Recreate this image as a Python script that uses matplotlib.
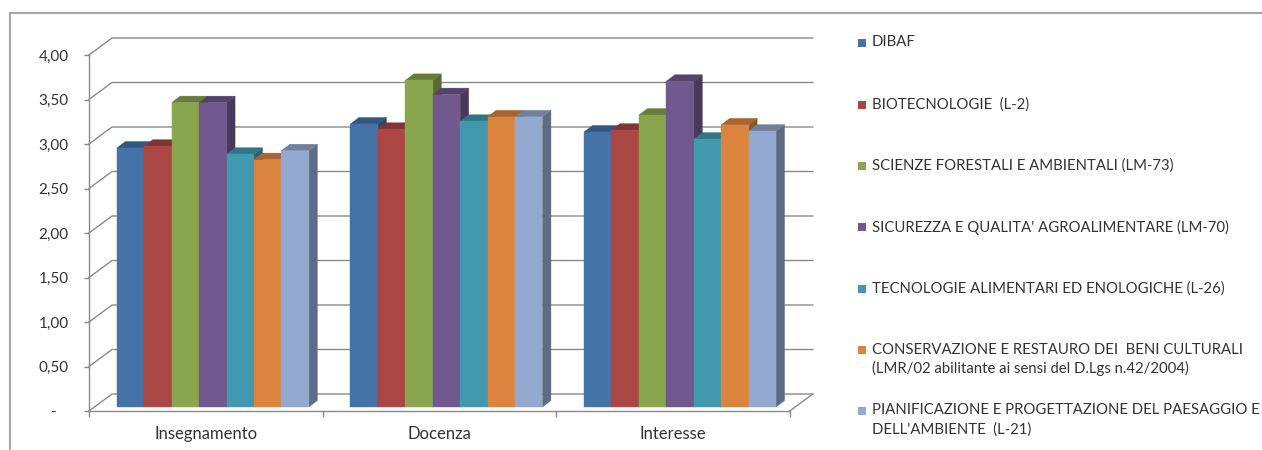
import matplotlib
matplotlib.use("Agg")
import matplotlib.pyplot as plt
from matplotlib.patches import Polygon, Rectangle
from matplotlib.lines import Line2D
import numpy as np

plt.rcParams['font.family'] = ['Lato', 'DejaVu Sans']

# ---------------- data ----------------
categories = ["Insegnamento", "Docenza", "Interesse"]
series_names = [
    "DIBAF",
    "BIOTECNOLOGIE  (L-2)",
    "SCIENZE FORESTALI E AMBIENTALI (LM-73)",
    "SICUREZZA E QUALITA' AGROALIMENTARE (LM-70)",
    "TECNOLOGIE ALIMENTARI ED ENOLOGICHE (L-26)",
    "CONSERVAZIONE E RESTAURO DEI  BENI CULTURALI\n(LMR/02 abilitante ai sensi del D.Lgs n.42/2004)",
    "PIANIFICAZIONE E PROGETTAZIONE DEL PAESAGGIO E\nDELL'AMBIENTE  (L-21)",
]
dibaf      = [2.91, 3.18, 3.09]
biotec     = [2.93, 3.12, 3.11]
forestali  = [3.42, 3.67, 3.28]
sicurezza  = [3.42, 3.51, 3.66]
tecnologie = [2.84, 3.21, 3.01]
conservaz  = [2.78, 3.26, 3.17]
pianific   = [2.88, 3.26, 3.10]
series_values = [dibaf, biotec, forestali, sicurezza, tecnologie, conservaz, pianific]
y_ticks = [0, 0.5, 1.0, 1.5, 2.0, 2.5, 3.0, 3.5, 4.0]
y_tick_labels = ["-   ", "0,50", "1,00", "1,50", "2,00", "2,50", "3,00", "3,50", "4,00"]

colors = ["#4572A7", "#AA4643", "#89A54E", "#71588F", "#4198AF", "#DB843D", "#93A9CF"]

# ---------------- figure ----------------
W, H = 1262, 450
fig = plt.figure(figsize=(W / 100, H / 100), dpi=100)

px_cat = 233.6   # pixels per category
px_val = 89.0    # pixels per unit value
x0_px, y0_px = 89, 411   # origin (pixels from top-left)
XL, YT = 3.1, 4.2
ax = fig.add_axes([x0_px / W, (H - y0_px) / H, XL * px_cat / W, YT * px_val / H])
ax.set_xlim(0, XL)
ax.set_ylim(0, YT)
ax.patch.set_alpha(0)

gray = "#8a8a8a"
text_col = "#333333"

# wall depth offsets (data units)
ddx = 23 / px_cat
ddy = 17 / px_val

# back-wall gridlines with perspective legs
for v in y_ticks:
    ax.add_line(Line2D([0, ddx, len(categories) + ddx], [v, v + ddy, v + ddy],
                       color=gray, lw=1.0, clip_on=False, zorder=1))
# floor right edge
ax.add_line(Line2D([len(categories), len(categories) + ddx], [0, ddy],
                   color=gray, lw=1.0, clip_on=False, zorder=1))

# bars (pseudo 3D)
n = len(series_values)
gap = 0.096
bw = (1 - 2 * 0.089) / n
f0 = 0.235
bdx = 8.5 / px_cat
bdy = 6.5 / px_val


def shade(c, k):
    rgb = np.array(matplotlib.colors.to_rgb(c))
    return tuple(rgb * k)


for ci in range(len(categories)):
    for si in range(n):
        v = series_values[si][ci]
        x = ci + gap + si * bw + f0 * ddx
        y = f0 * ddy
        col = colors[si]
        side = Polygon([(x + bw, y), (x + bw + bdx, y + bdy), (x + bw + bdx, y + v + bdy), (x + bw, y + v)],
                       closed=True, facecolor=shade(col, 0.64), edgecolor=shade(col, 0.64), lw=0.3,
                       clip_on=False, zorder=3)
        top = Polygon([(x, y + v), (x + bw, y + v), (x + bw + bdx, y + v + bdy), (x + bdx, y + v + bdy)],
                      closed=True, facecolor=shade(col, 0.76), edgecolor=shade(col, 0.76), lw=0.3,
                      clip_on=False, zorder=3)
        front = Rectangle((x, y), bw, v, facecolor=col, edgecolor=col, lw=0.3, clip_on=False, zorder=3)
        ax.add_patch(side)
        ax.add_patch(top)
        ax.add_patch(front)

# axes
for s in ["top", "right"]:
    ax.spines[s].set_visible(False)
ax.spines["left"].set_bounds(0, 4)
ax.spines["bottom"].set_bounds(0, len(categories))
for s in ["left", "bottom"]:
    ax.spines[s].set_color(gray)
    ax.spines[s].set_linewidth(1.0)
    ax.spines[s].set_zorder(2)

ax.set_yticks(y_ticks)
ax.set_yticklabels(y_tick_labels)
ax.tick_params(axis="y", direction="out", length=3.5, width=1, color=gray,
               labelsize=11, labelcolor=text_col, pad=11)
ax.set_xticks([i + 0.5 for i in range(len(categories))])
ax.set_xticklabels(categories)
ax.set_xticks(list(range(len(categories) + 1)), minor=True)
ax.tick_params(axis="x", which="major", length=0, labelsize=12, labelcolor=text_col, pad=11)
ax.tick_params(axis="x", which="minor", direction="out", length=4, width=1, color=gray)

# legend (manual, Excel-like layout)
leg_y = [43, 104.5, 166, 227, 289, 350, 411]
sq = 8
for si, name in enumerate(series_names):
    yc = leg_y[si]
    fig.patches.append(Rectangle(((858) / W, (H - yc - sq / 2) / H), sq / W, sq / H,
                                 transform=fig.transFigure, facecolor=colors[si], edgecolor="none"))
    fig.text(872 / W, (H - yc + 7.5) / H, name, ha="left", va="top", fontsize=10.7,
             color=text_col, linespacing=1.4)

# outer chart border (top and left edges visible)
fig.add_artist(Line2D([10 / W, 1.0], [(H - 13) / H, (H - 13) / H], transform=fig.transFigure,
                      color="#a6a6a6", lw=1.5))
fig.add_artist(Line2D([10 / W, 10 / W], [0, (H - 13) / H], transform=fig.transFigure,
                      color="#a6a6a6", lw=1.5))

fig.savefig("out.png", dpi=100)
